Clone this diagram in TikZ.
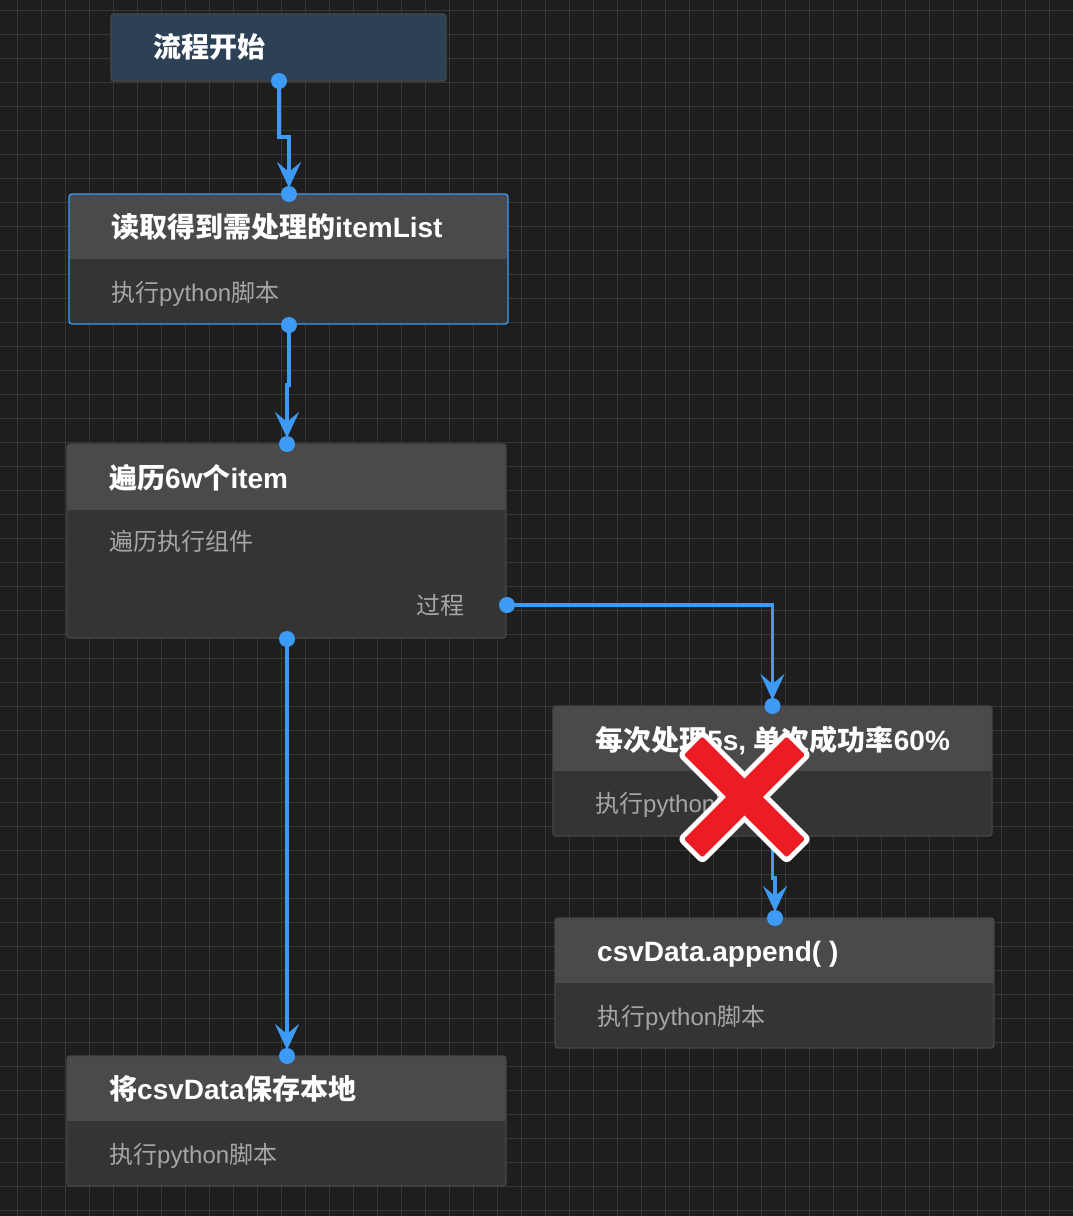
\documentclass[tikz,border=0pt]{standalone}
\usepackage{fontspec}
\setmainfont{Liberation Sans}
\newfontfamily\cjk{Noto Sans CJK SC}
\usetikzlibrary{arrows.meta}
\definecolor{bgc}{HTML}{1E1E1E}
\definecolor{gridc}{HTML}{373737}
\definecolor{startfill}{HTML}{2C4156}
\definecolor{headfill}{HTML}{4A4A4C}
\definecolor{bodyfill}{HTML}{343434}
\definecolor{cardline}{HTML}{464646}
\definecolor{flowblue}{HTML}{3D9BF6}
\definecolor{subc}{HTML}{A6A6A6}
\definecolor{xred}{HTML}{EC1C24}
\newcommand\mkcard[7]{%
  \node[cardbox, minimum width=#4pt, minimum height=#5pt] (#1) at (#2,#3) {};
  \begin{scope}
    \clip[rounded corners=3pt] (#1.north west) rectangle (#1.south east);
    \fill[headfill] (#1.north west) rectangle ([yshift=-#6pt]#1.north east);
  \end{scope}
  \draw[#7, line width=1.3pt, rounded corners=3pt] (#1.north west) rectangle (#1.south east);
}
\begin{document}
\begin{tikzpicture}[x=1pt,y=-1pt,
  cardbox/.style={rectangle, fill=bodyfill, inner sep=0pt, outer sep=0pt, anchor=north west},
  titletext/.style={font=\bfseries\fontsize{28pt}{32pt}\selectfont, text=white, anchor=west, inner sep=0pt, text height=24.6pt, text depth=3.4pt},
  subtext/.style={font=\fontsize{24pt}{28pt}\selectfont, text=subc, anchor=west, inner sep=0pt, text height=21.1pt, text depth=2.9pt},
  port/.style={circle, fill=flowblue, inner sep=0pt, minimum size=16pt},
  conn/.style={draw=flowblue, line width=3.8pt, -{Stealth[length=26pt,width=24pt,inset=10pt]}, shorten >=6pt},
  xwhite/.style={rectangle, fill=white, rounded corners=6pt, minimum width=155pt, minimum height=36pt, inner sep=0pt},
  xredarm/.style={rectangle, fill=xred, rounded corners=1.5pt, minimum width=145pt, minimum height=26pt, inner sep=0pt}
]
\fill[bgc] (0,0) rectangle (1073,1216);
\useasboundingbox (0,0) rectangle (1073,1216);
% grid
\foreach \k in {0,...,43} {\draw[gridc, line width=1pt] ({17.3+24*\k},0) -- ({17.3+24*\k},1216);}
\foreach \k in {0,...,50} {\draw[gridc, line width=1pt] (0,{10.3+24*\k}) -- (1073,{10.3+24*\k});}

% start node
\node[cardbox, fill=startfill, minimum width=335pt, minimum height=67pt] (n1) at (111,14) {};
\draw[cardline, line width=1.3pt, rounded corners=3pt] (n1.north west) rectangle (n1.south east);
\node[titletext] (n1t) at (153,47) {\cjk 流程开始};

% cards
\mkcard{n2}{69}{194}{439}{130}{65}{flowblue}
\node[titletext] (n2t) at (111,227) {{\cjk 读取得到需处理的}itemList};
\node[subtext] (n2s) at (111,292) {{\cjk 执行}python{\cjk 脚本}};

\mkcard{n3}{67}{444}{439}{194}{66}{cardline}
\node[titletext] (n3t) at (109,477.5) {{\cjk 遍历}6w{\cjk 个}item};
\node[subtext] (n3s) at (109,541.5) {\cjk 遍历执行组件};
\node[subtext, anchor=east] (n3p) at (465,605) {\cjk 过程};

\mkcard{n4}{553}{706}{439}{130}{65}{cardline}
\node[titletext] (n4t) at (595,740) {{\cjk 每次处理}5s, {\cjk 单次成功率}60\%};
\node[subtext] (n4s) at (595,803) {{\cjk 执行}python{\cjk 脚本}};

\mkcard{n5}{555}{918}{439}{130}{65}{cardline}
\node[titletext] (n5t) at (597,951) {csvData.append( )};
\node[subtext] (n5s) at (597,1016) {{\cjk 执行}python{\cjk 脚本}};

\mkcard{n6}{67}{1056}{439}{130}{65}{cardline}
\node[titletext] (n6t) at (109,1089) {{\cjk 将}csvData{\cjk 保存本地}};
\node[subtext] (n6s) at (109,1154) {{\cjk 执行}python{\cjk 脚本}};

% ports (positions)
\coordinate (p1o) at (279,81);
\coordinate (p2i) at (289,194);
\coordinate (p2o) at (289,325);
\coordinate (p3i) at (287,444);
\coordinate (p3o) at (287,639);
\coordinate (p3r) at (507,605);
\coordinate (p4i) at (772.5,706);
\coordinate (p4o) at (772.5,836);
\coordinate (p5i) at (775,918);
\coordinate (p6i) at (287,1056);
% bends
\coordinate (k1) at (289,137);
\coordinate (k2) at (287,385);
\coordinate (k4) at (775,878);

% connectors
\draw[conn] (p1o) |- (k1) -- (p2i);
\draw[conn] (p2o) |- (k2) -- (p3i);
\draw[conn] (p3o) -- (p6i);
\draw[conn] (p3r) -| (p4i);
\draw[conn] (p4o) |- (k4) -- (p5i);

% port dots
\foreach \p in {p1o,p2i,p2o,p3i,p3o,p3r,p4i,p5i,p6i} {\node[port] (dot-\p) at (\p) {};}

% red cross
\node[xwhite, rotate=45] (xw1) at (744.5,797) {};
\node[xwhite, rotate=-45] (xw2) at (744.5,797) {};
\node[xredarm, rotate=45] (xr1) at (744.5,797) {};
\node[xredarm, rotate=-45] (xr2) at (744.5,797) {};
\end{tikzpicture}
\end{document}
